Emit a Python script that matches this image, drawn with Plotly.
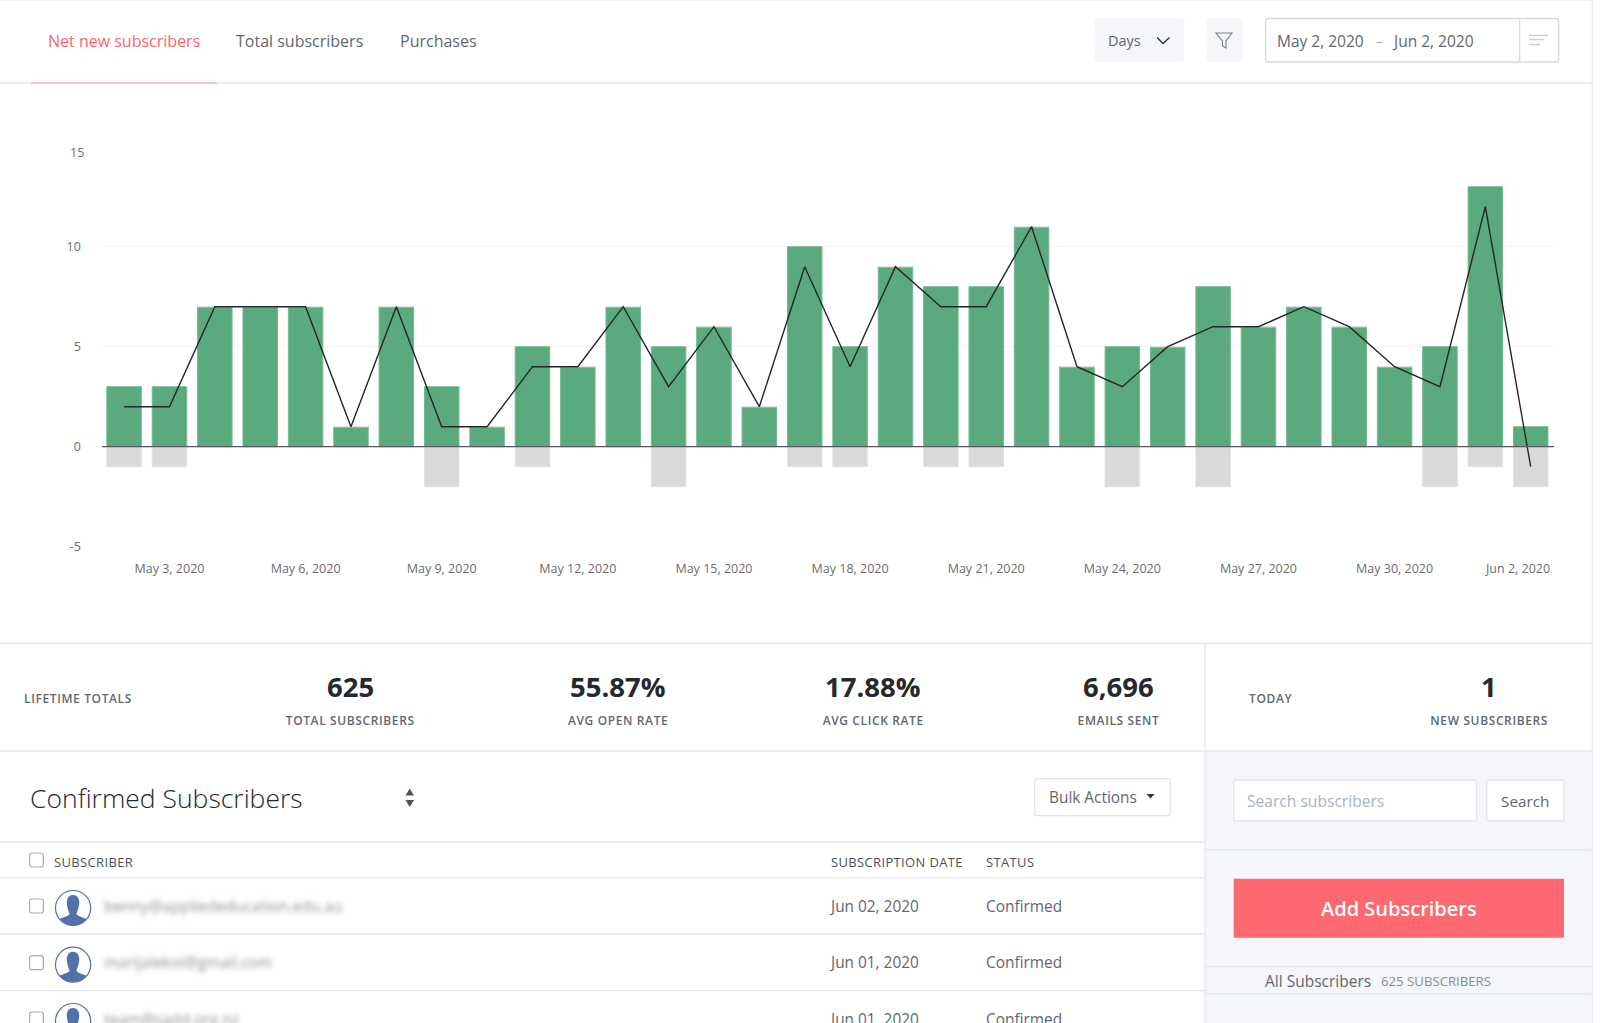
import json
import plotly.graph_objects as go

W, H = 1600, 1023

# ---- data -------------------------------------------------------------
days = ["May 2, 2020", "May 3, 2020", "May 4, 2020", "May 5, 2020", "May 6, 2020", "May 7, 2020",
        "May 8, 2020", "May 9, 2020", "May 10, 2020", "May 11, 2020", "May 12, 2020", "May 13, 2020",
        "May 14, 2020", "May 15, 2020", "May 16, 2020", "May 17, 2020", "May 18, 2020", "May 19, 2020",
        "May 20, 2020", "May 21, 2020", "May 22, 2020", "May 23, 2020", "May 24, 2020", "May 25, 2020",
        "May 26, 2020", "May 27, 2020", "May 28, 2020", "May 29, 2020", "May 30, 2020", "May 31, 2020",
        "Jun 1, 2020", "Jun 2, 2020"]
new_subs = [3, 3, 7, 7, 7, 1, 7, 3, 1, 5, 4, 7, 5, 6, 2, 10, 5, 9, 8, 8, 11, 4, 5, 5, 8, 6, 7, 6, 4, 5, 13, 1]
lost_subs = [-1, -1, 0, 0, 0, 0, 0, -2, 0, -1, 0, 0, -2, 0, 0, -1, -1, 0, -1, -1, 0, 0, -2, 0, -2, 0, 0, 0, 0, -2, -1, -2]
net_subs = [2, 2, 7, 7, 7, 1, 7, 1, 1, 4, 4, 7, 3, 6, 2, 9, 4, 9, 7, 7, 11, 4, 3, 5, 6, 6, 7, 6, 4, 3, 12, -1]
x_ticks = ["May 3, 2020", "May 6, 2020", "May 9, 2020", "May 12, 2020", "May 15, 2020", "May 18, 2020",
           "May 21, 2020", "May 24, 2020", "May 27, 2020", "May 30, 2020"]
last_tick = "Jun 2, 2020"
y_ticks = [-5, 0, 5, 10]
top_tick = 15

FONT = "Open Sans"
RED = "#fb6471"
GREY = "#63676f"
DARK = "#25282c"
RULE = "#e6e8eb"
PANEL = "#f4f6fa"
BLUE = "#5470a8"
TICK = "#6b6d70"


def px(x):
    return x / W


def py(y):
    return 1 - y / H


shapes, notes, css = [], [], {}


def rect(x0, y0, x1, y1, fill="rgba(0,0,0,0)", line=None, lw=1):
    shapes.append(dict(type="rect", xref="paper", yref="paper", x0=px(x0), x1=px(x1), y0=py(y1), y1=py(y0),
                       fillcolor=fill, line=dict(color=line or "rgba(0,0,0,0)", width=lw if line else 0)))


def seg(x0, y0, x1, y1, color=RULE, lw=1.3):
    shapes.append(dict(type="line", xref="paper", yref="paper", x0=px(x0), x1=px(x1), y0=py(y0), y1=py(y1),
                       line=dict(color=color, width=lw)))


def path(cmds, fill="rgba(0,0,0,0)", line=None, lw=1):
    out = []
    for c in cmds:
        if isinstance(c, str):
            out.append(c)
        else:
            out.append(f"{px(c[0]):.5f},{py(c[1]):.5f}")
    shapes.append(dict(type="path", xref="paper", yref="paper", path=" ".join(out), fillcolor=fill,
                       line=dict(color=line or "rgba(0,0,0,0)", width=lw if line else 0)))


def rrect(x0, y0, x1, y1, r=2.5, fill="rgba(0,0,0,0)", line=None, lw=1):
    path(["M", (x0 + r, y0), "L", (x1 - r, y0), "Q", (x1, y0), (x1, y0 + r), "L", (x1, y1 - r),
          "Q", (x1, y1), (x1 - r, y1), "L", (x0 + r, y1), "Q", (x0, y1), (x0, y1 - r), "L", (x0, y0 + r),
          "Q", (x0, y0), (x0 + r, y0), "Z"], fill=fill, line=line, lw=lw)


def text(s, x, y, size=15, color=GREY, anchor="left", weight=400, style=None):
    if style:
        css[len(notes)] = style
    notes.append(dict(text=s, xref="paper", yref="paper", x=px(x), y=py(y), xanchor=anchor, yanchor="middle",
                      align=anchor, showarrow=False, borderpad=0, borderwidth=0,
                      font=dict(family=FONT, size=size, color=color, weight=weight)))


# ---- frame ------------------------------------------------------------
rect(1205, 751, 1592, 1023, fill=PANEL)
seg(0, 0.5, 1592, 0.5, "#f2f3f4", 1)
seg(1592.5, 0, 1592.5, 1023, "#e9ebee", 1.5)
seg(0, 83, 1592, 83)
seg(31, 83, 217, 83, "#ffb3b8", 1.5)
seg(0, 643.5, 1592, 643.5)
seg(0, 751, 1592, 751)
seg(1205, 643.5, 1205, 1023)
seg(0, 842, 1205, 842)
seg(0, 877.7, 1205, 877.7)
seg(0, 934, 1205, 934)
seg(0, 990.7, 1205, 990.7)
seg(1205, 850, 1592, 850)
seg(1205, 966.7, 1592, 966.7)
seg(1205, 994, 1592, 994)

# ---- tabs + header controls ------------------------------------------
text("Net new subscribers", 48, 41, 16, RED)
text("Total subscribers", 236, 41, 16, GREY)
text("Purchases", 399.5, 41, 16, GREY)

rrect(1094.5, 18, 1184, 62, fill=PANEL)
text("Days", 1108.2, 41, 14.5, GREY)
path(["M", (1157, 37.5), "L", (1163, 43.5), "L", (1169.5, 37.5)], line="#33373c", lw=1.5)
rrect(1206.7, 18, 1242.6, 62, fill=PANEL)
path(["M", (1216, 33), "L", (1232, 33), "L", (1226, 41), "L", (1226, 48), "L", (1222.5, 46), "L", (1222.5, 41), "Z"],
     line="#7a7f87", lw=1.1)
rrect(1265.6, 18.5, 1558.7, 62, fill="#ffffff", line="#d5d9de", lw=1.3)
seg(1519.7, 18.5, 1519.7, 62, "#d5d9de", 1.2)
text("May 2, 2020", 1276.5, 41, 15.5, GREY)
text("–", 1379, 41, 13, "#a5a9b0", anchor="center")
text("Jun 2, 2020", 1392, 41, 15.5, GREY)
seg(1529, 35.5, 1548, 35.5, "#c9ced6", 1.5)
seg(1529, 39.5, 1544, 39.5, "#c9ced6", 1.5)
seg(1529, 44.5, 1540, 44.5, "#c9ced6", 1.5)

# ---- lifetime strip --------------------------------------------------
SPACED = "letter-spacing:0.62px"
text("LIFETIME TOTALS", 24, 698.5, 12, GREY, weight=600, style=SPACED)
for value, label, cx in [("625", "TOTAL SUBSCRIBERS", 350), ("55.87%", "AVG OPEN RATE", 618),
                         ("17.88%", "AVG CLICK RATE", 873), ("6,696", "EMAILS SENT", 1118),
                         ("1", "NEW SUBSCRIBERS", 1489)]:
    text(value, cx, 686, 27.5, DARK, anchor="center", weight=700)
    text(label, cx, 720.5, 12, GREY, anchor="center", weight=600, style=SPACED)
text("TODAY", 1249, 698.5, 12, GREY, weight=600, style=SPACED)

# ---- table -----------------------------------------------------------
text("Confirmed Subscribers", 29.5, 798, 26.5, "#26292d", weight=300)
path(["M", (405.5, 795.5), "L", (409.7, 788.5), "L", (414, 795.5), "Z"], fill="#4f5358")
path(["M", (405.5, 800), "L", (409.7, 807), "L", (414, 800), "Z"], fill="#4f5358")
rrect(1034.7, 778.7, 1170.4, 815.7, fill="#ffffff", line="#e1e4e8", lw=1.3)
text("Bulk Actions", 1049, 797.5, 15.4, GREY)
path(["M", (1146.5, 794), "L", (1154.5, 794), "L", (1150.5, 798.5), "Z"], fill="#33373c")

HEAD = "letter-spacing:0.35px"
text("SUBSCRIBER", 54, 862, 13, "#4d5157", style=HEAD)
text("SUBSCRIPTION DATE", 830.5, 862, 13, "#4d5157", style=HEAD)
text("STATUS", 986, 862, 13, "#4d5157", style=HEAD)
rrect(29.6, 853, 43.4, 867, line="#a9adb3", lw=1.2)

rows = [("benny@appliededucation.edu.au", "Jun 02, 2020", 908),
        ("marijalekoi@gmail.com", "Jun 01, 2020", 964.7),
        ("team@sadd.org.nz", "Jun 01, 2020", 1021)]
for email, date, cy in rows:
    rrect(29.6, cy - 9, 43.4, cy + 5, line="#a9adb3", lw=1.2)
    shapes.append(dict(type="circle", xref="paper", yref="paper", x0=px(55.5), x1=px(90.7), y0=py(cy + 17.5), y1=py(cy - 17.5),
                       fillcolor="#ffffff", line=dict(color=BLUE, width=1.2)))
    P = lambda dx, dy: (73 + dx, cy + dy)
    path(["M", P(0, -13),
          "C", P(5, -13), P(7, -8), P(6, -3),
          "C", P(5.5, 1), P(4, 4), P(3.5, 6),
          "C", P(4, 8), P(9, 9), P(13.5, 11),
          "Q", P(8, 17.3), P(0, 17.3),
          "Q", P(-8, 17.3), P(-13.5, 11),
          "C", P(-9, 9), P(-4, 8), P(-3.5, 6),
          "C", P(-4, 4), P(-5.5, 1), P(-6, -3),
          "C", P(-7, -8), P(-5, -13), P(0, -13), "Z"], fill=BLUE)
    text(email, 104, cy - 2.5, 15.5, "#8f939a", style="filter:blur(2.6px)")
    text(date, 829, cy - 2, 15.4, GREY)
    text("Confirmed", 986, cy - 2, 15.4, GREY)

# ---- right panel -----------------------------------------------------
rrect(1233.7, 780, 1476.5, 821, fill="#ffffff", line="#e2e5ea", lw=1.3)
text("Search subscribers", 1247, 801, 15.6, "#aab2c5")
rrect(1486.7, 780, 1564, 821, fill="#ffffff", line="#e2e5ea", lw=1.3)
text("Search", 1525.3, 801, 15.3, GREY, anchor="center")
rect(1233.7, 878.7, 1564, 937.7, fill="#fe6871")
text("Add Subscribers", 1398.5, 908, 20, "#ffffff", anchor="center", weight=600)
text("All Subscribers", 1265, 980.5, 15.5, GREY)
text("625 SUBSCRIBERS", 1380.5, 981, 13.2, "#8a8e95")

# ---- chart -----------------------------------------------------------
fig = go.Figure()
fig.add_bar(x=days, y=new_subs, marker=dict(color="#5aaa7d", line=dict(color="#74b893", width=1)), showlegend=False)
fig.add_bar(x=days, y=lost_subs, marker=dict(color="#d9d9d9", line=dict(color="#e2e2e2", width=1)), showlegend=False)
fig.add_scatter(x=days, y=net_subs, mode="lines", line=dict(color="#22262a", width=1.4), showlegend=False)

# the zero line runs over the bars in the reference
shapes.append(dict(type="line", xref="paper", yref="y", x0=px(102), x1=px(1554), y0=0, y1=0, layer="above",
                   line=dict(color="#55585c", width=1.3)))

# Last x label and the top y label sit shifted from their ticks in the reference
notes.append(dict(text=last_tick, x=last_tick, y=-5, xref="x", yref="y", xanchor="center", yanchor="middle",
                  xshift=-13, yshift=-22, showarrow=False, borderpad=0,
                  font=dict(family=FONT, size=12.5, color=TICK)))
notes.append(dict(text=str(top_tick), x=px(84.5), y=top_tick, xref="paper", yref="y", xanchor="right", yanchor="middle",
                  yshift=-6, showarrow=False, borderpad=0,
                  font=dict(family=FONT, size=12.5, color=TICK)))

fig.update_layout(
    width=W, height=H, margin=dict(l=0, r=0, t=0, b=0), autosize=False,
    paper_bgcolor="#ffffff", plot_bgcolor="rgba(0,0,0,0)",
    barmode="relative", bargap=0.24, shapes=shapes, annotations=notes,
    font=dict(family=FONT, color=TICK, size=12.5),
    xaxis=dict(domain=[px(101.4), px(1553.4)], type="category", categoryorder="array", categoryarray=days,
               range=[-0.5, 31.5], tickmode="array", tickvals=x_ticks, ticktext=x_ticks, tickangle=0,
               showgrid=False, zeroline=False, showline=False, ticks="outside", ticklen=10,
               tickcolor="rgba(0,0,0,0)", fixedrange=True, automargin=False),
    yaxis=dict(domain=[py(546.7), py(146.7)], range=[-5, 15], tickmode="array", tickvals=y_ticks + [top_tick],
               ticktext=[str(v) for v in y_ticks] + [""], showgrid=True, gridcolor="#f5f5f6", gridwidth=1,
               zeroline=False, showline=False, ticks="outside",
               ticklen=17, tickcolor="rgba(0,0,0,0)", fixedrange=True, automargin=False),
)

post = """
var css = %s;
document.documentElement.style.margin='0';
document.body.style.margin='0';
document.querySelectorAll('.annotation').forEach(function(a){
  var s = css[a.getAttribute('data-index')];
  if(s){ a.querySelector('.annotation-text').style.cssText += ';' + s; }
});
""" % json.dumps(css)
fig.write_html("out.html", post_script=post, config=dict(displayModeBar=False))
